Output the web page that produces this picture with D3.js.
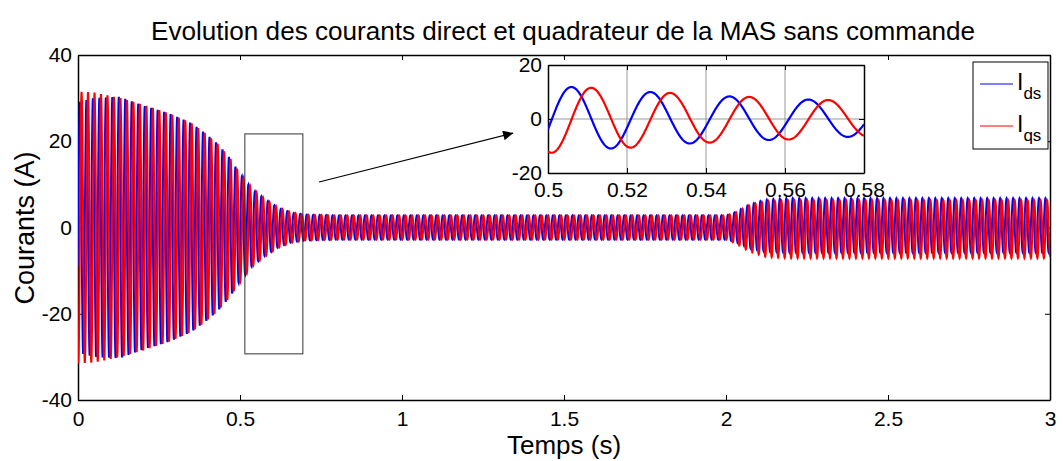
<!doctype html>
<html>
<head>
<meta charset="UTF-8">
<title>Courants Ids Iqs</title>
<script src="https://d3js.org/d3.v7.min.js"></script>
<style>
  body { margin: 0; background: #fff; }
  text { font-family: "Liberation Sans", Arial, sans-serif; fill: #000; }
</style>
</head>
<body>
<script>
// enveloppe des courants (amplitude crete, A)
var envT   = [0, 0.05, 0.13, 0.2, 0.28, 0.35, 0.39, 0.43, 0.47, 0.5, 0.54, 0.58, 0.62, 0.66, 0.7, 0.8, 2.0, 2.03, 2.07, 2.12, 2.2, 3.0];
var idsEnv = [29, 30, 30.3, 28.3, 26.5, 24.2, 22, 19.5, 16, 12.4, 8.7, 6.4, 4.5, 3.4, 3.0, 2.8, 2.8, 3.5, 5.0, 6.0, 6.3, 6.3];
var iqsEnv = [31.5, 31.3, 30, 28.5, 26.5, 24.2, 22, 19.5, 16, 12.6, 8.8, 6.5, 4.6, 3.5, 3.0, 2.8, 2.8, 3.6, 5.3, 6.4, 6.7, 6.7];
var offT   = [0, 2.0, 2.15, 3.0];
var idsOff = [0, 0, 0.5, 0.5];
var iqsOff = [0, 0, -0.4, -0.4];
var freq = 50;      // Hz
var t0 = 0.001;     // passage par zero de Ids

var xTicks = [0, 0.5, 1, 1.5, 2, 2.5, 3];
var yTicks = [-40, -20, 0, 20, 40];
var zxTicks = [0.5, 0.52, 0.54, 0.56, 0.58];
var zyTicks = [-20, 0, 20];

var zoomBox = {t1: 0.515, t2: 0.694, y1: -29.3, y2: 21.7};

var W = 1063, H = 461;
var svg = d3.select("body").append("svg").attr("width", W).attr("height", H);

var x = d3.scaleLinear().domain([0, 3]).range([78, 1050]);
var y = d3.scaleLinear().domain([-40, 40]).range([400, 55]);

var envD = d3.scaleLinear().domain(envT).range(idsEnv);
var envQ = d3.scaleLinear().domain(envT).range(iqsEnv);
var offD = d3.scaleLinear().domain(offT).range(idsOff);
var offQ = d3.scaleLinear().domain(offT).range(iqsOff);

function ids(t) { return envD(t) * Math.sin(2 * Math.PI * freq * (t - t0)) + offD(t); }
function iqs(t) { return -envQ(t) * Math.cos(2 * Math.PI * freq * (t - t0)) + offQ(t); }

function axes(g, xs, ys, xt, yt) {
  var l = xs.range()[0], r = xs.range()[1], b = ys.range()[0], tp = ys.range()[1];
  g.append("rect").attr("x", l).attr("y", tp).attr("width", r - l).attr("height", b - tp)
    .attr("fill", "#fff");
  var ax = [
    [d3.axisBottom(xs).tickValues(xt).tickFormat(function(d){ return String(d); }), "translate(0," + b + ")"],
    [d3.axisTop(xs).tickValues(xt).tickFormat(""), "translate(0," + tp + ")"],
    [d3.axisLeft(ys).tickValues(yt).tickFormat(function(d){ return String(d); }), "translate(" + l + ",0)"],
    [d3.axisRight(ys).tickValues(yt).tickFormat(""), "translate(" + r + ",0)"]
  ];
  ax.forEach(function(a) {
    var s = g.append("g").attr("transform", a[1])
      .call(a[0].tickSizeInner(-5).tickSizeOuter(0).tickPadding(6));
    s.select(".domain").attr("stroke", "#000").attr("stroke-width", 1.5);
    s.selectAll(".tick line").attr("stroke", "#000").attr("stroke-width", 1);
    s.selectAll("text").attr("font-size", 21).attr("fill", "#000")
      .attr("font-family", "Liberation Sans, Arial, sans-serif");
  });
}

// ----- axes principaux -----
var main = svg.append("g");
axes(main, x, y, xTicks, yTicks);
main.selectAll("text").filter(function(){ return this.parentNode && d3.select(this.parentNode.parentNode).attr("transform") === "translate(0,400)"; })
  .attr("dy", "0.95em");

svg.append("clipPath").attr("id", "clipMain").append("rect")
  .attr("x", 78).attr("y", 55).attr("width", 972).attr("height", 345);

var tMain = d3.range(0, 3.00001, 0.0005);
var lineMain = function(f) {
  return d3.line().x(function(t){ return x(t); }).y(function(t){ return y(f(t)); });
};
var gm = svg.append("g").attr("clip-path", "url(#clipMain)");
gm.append("path").datum(tMain).attr("d", lineMain(ids))
  .attr("fill", "none").attr("stroke", "#0000ff").attr("stroke-width", 2);
gm.append("path").datum(tMain).attr("d", lineMain(iqs))
  .attr("fill", "none").attr("stroke", "#ff0000").attr("stroke-width", 2);

// rectangle de zoom
svg.append("rect")
  .attr("x", x(zoomBox.t1)).attr("y", y(zoomBox.y2))
  .attr("width", x(zoomBox.t2) - x(zoomBox.t1)).attr("height", y(zoomBox.y1) - y(zoomBox.y2))
  .attr("fill", "none").attr("stroke", "#333").attr("stroke-width", 1);

// fleche
svg.append("defs").append("marker").attr("id", "arr")
  .attr("viewBox", "0 0 10 10").attr("refX", 10).attr("refY", 5)
  .attr("markerWidth", 14).attr("markerHeight", 10).attr("markerUnits", "userSpaceOnUse")
  .attr("orient", "auto")
  .append("path").attr("d", "M0,0 L10,5 L0,10 Z").attr("fill", "#000");
svg.append("line")
  .attr("x1", x(0.744)).attr("y1", y(10.55))
  .attr("x2", x(1.343)).attr("y2", y(21.9))
  .attr("stroke", "#000").attr("stroke-width", 1.2).attr("marker-end", "url(#arr)");

// ----- encart -----
var zx = d3.scaleLinear().domain([0.5, 0.58]).range([548, 864]);
var zy = d3.scaleLinear().domain([-20, 20]).range([173, 65]);
var ins = svg.append("g");
axes(ins, zx, zy, zxTicks, zyTicks);
ins.selectAll("text").filter(function(){ return d3.select(this.parentNode.parentNode).attr("transform") === "translate(0,173)"; })
  .attr("dy", "0.85em");
// grille
var grid = ins.insert("g", "g:nth-of-type(1)");
grid.selectAll("line.v").data(zxTicks.slice(1, -1)).enter().append("line")
  .attr("x1", zx).attr("x2", zx).attr("y1", 65).attr("y2", 173)
  .attr("stroke", "#999").attr("stroke-width", 1);
grid.append("line").attr("x1", 548).attr("x2", 864).attr("y1", zy(0)).attr("y2", zy(0))
  .attr("stroke", "#999").attr("stroke-width", 1);

svg.append("clipPath").attr("id", "clipIns").append("rect")
  .attr("x", 548).attr("y", 65).attr("width", 316).attr("height", 108);
var tIns = d3.range(0.5, 0.58001, 0.0001);
var lineIns = function(f) {
  return d3.line().x(function(t){ return zx(t); }).y(function(t){ return zy(f(t)); });
};
var gi = svg.append("g").attr("clip-path", "url(#clipIns)");
gi.append("path").datum(tIns).attr("d", lineIns(ids))
  .attr("fill", "none").attr("stroke", "#0000ff").attr("stroke-width", 2.2);
gi.append("path").datum(tIns).attr("d", lineIns(iqs))
  .attr("fill", "none").attr("stroke", "#ff0000").attr("stroke-width", 2.2);

// ----- legende -----
var leg = svg.append("g");
leg.append("rect").attr("x", 973).attr("y", 62).attr("width", 75).attr("height", 87)
  .attr("fill", "#fff").attr("stroke", "#000").attr("stroke-width", 1);
var legItems = [{name: "ds", color: "#0000ff", yy: 84}, {name: "qs", color: "#ff0000", yy: 126}];
legItems.forEach(function(d) {
  leg.append("line").attr("x1", 980).attr("x2", 1013).attr("y1", d.yy).attr("y2", d.yy)
    .attr("stroke", d.color).attr("stroke-width", 1.2);
  var tx = leg.append("text").attr("x", 1017).attr("y", d.yy + 6).attr("font-size", 23);
  tx.append("tspan").text("I");
  tx.append("tspan").attr("dy", 9).attr("font-size", 17).text(d.name);
});

// ----- titres -----
svg.append("text").attr("x", 563).attr("y", 40).attr("text-anchor", "middle")
  .attr("font-size", 26).attr("textLength", 824).attr("lengthAdjust", "spacingAndGlyphs")
  .text("Evolution des courants direct et quadrateur de la MAS sans commande");
svg.append("text").attr("x", 564).attr("y", 454).attr("text-anchor", "middle")
  .attr("font-size", 26).text("Temps (s)");
svg.append("text").attr("transform", "translate(34,228) rotate(-90)").attr("text-anchor", "middle")
  .attr("font-size", 27).text("Courants (A)");
</script>
</body>
</html>
